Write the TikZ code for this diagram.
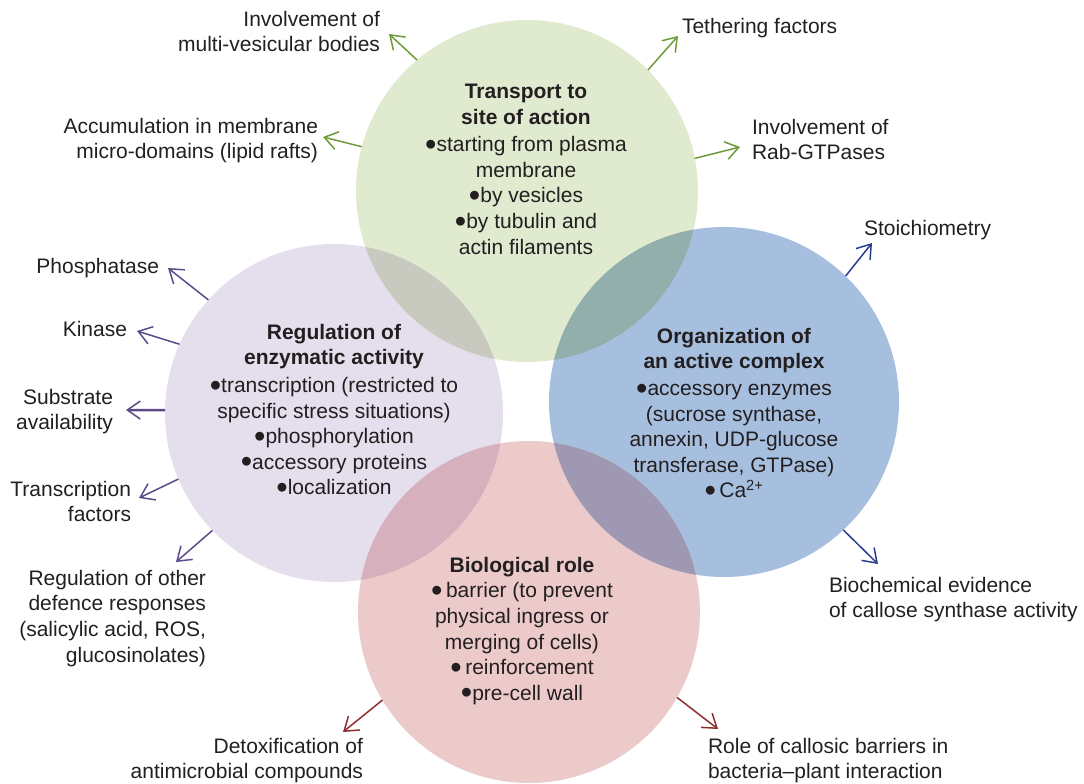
\documentclass[tikz,border=0pt]{standalone}
\usepackage{fontspec}
\setmainfont{Liberation Sans}
\usetikzlibrary{arrows.meta}

% disc fills
\definecolor{fgreen}{HTML}{E0EACF}
\definecolor{fpurple}{HTML}{E5DEEC}
\definecolor{fblue}{HTML}{A7BFDF}
\definecolor{fred}{HTML}{EDCACA}
% overlap fills
\definecolor{ogp}{HTML}{C8CAC0}
\definecolor{ogb}{HTML}{93AFAC}
\definecolor{opr}{HTML}{D6B1BD}
\definecolor{obr}{HTML}{9E98B2}
% connector colours
\definecolor{lgreen}{HTML}{6E9B3A}
\definecolor{lpurple}{HTML}{5C4A8B}
\definecolor{lblue}{HTML}{263F92}
\definecolor{lred}{HTML}{8F2E30}
\definecolor{ink}{HTML}{231F20}

% large round bullet
\newcommand{\bigdot}{\raisebox{-3.6pt}{\scalebox{1.55}{•}}}

\begin{document}
\begin{tikzpicture}[x=1pt,y=-1pt,
  font=\fontsize{21}{25.6}\selectfont,
  disc/.style={circle,inner sep=0pt,outer sep=0pt},
  txt/.style={inner sep=0pt,outer sep=0pt,text=ink},
  arr/.style={line width=1.5pt,-{Straight Barb[length=13pt,width=18pt,line width=1.5pt]}},
  ]
\useasboundingbox (0,0) rectangle (1084,784);

% the four discs
\node[disc,fill=fgreen,minimum size=342pt]  (tr)  at (527,191) {};
\node[disc,fill=fpurple,minimum size=338pt] (rg)  at (334,413) {};
\node[disc,fill=fblue,minimum size=350pt]   (oc)  at (724,402) {};
\node[disc,fill=fred,minimum size=342pt]    (bio) at (529,612) {};

% pairwise overlaps
\begin{scope}
  \clip (527,191) circle (171);
  \fill[ogp] (334,413) circle (169);
  \fill[ogb] (724,402) circle (175);
\end{scope}
\begin{scope}
  \clip (529,612) circle (171);
  \fill[opr] (334,413) circle (169);
  \fill[obr] (724,402) circle (175);
\end{scope}

% texts inside the discs
\node[txt,align=center,anchor=north] (trtext) at (526,84)
  {\textbf{Transport to}\\\textbf{site of action}\\[2pt]
   \bigdot starting from plasma\\membrane\\\bigdot by vesicles\\\bigdot by tubulin and\\actin filaments};
\node[txt,align=center,anchor=north] (rgtext) at (334,324)
  {\textbf{Regulation of}\\\textbf{enzymatic activity}\\[2pt]
   \bigdot transcription (restricted to\\specific stress situations)\\\bigdot phosphorylation\\
   \bigdot accessory proteins\\\bigdot localization};
\node[txt,align=center,anchor=north] (octext) at (734,328)
  {\textbf{Organization of}\\\textbf{an active complex}\\[1pt]
   \bigdot accessory enzymes\\(sucrose synthase,\\annexin, UDP-glucose\\
   transferase, GTPase)\\\bigdot\,Ca\textsuperscript{2+}};
\node[txt,align=center,anchor=north] (biotext) at (522,557)
  {\textbf{Biological role}\\
   \bigdot\,barrier (to prevent\\physical ingress or\\merging of cells)\\
   \bigdot\,reinforcement\\\bigdot pre-cell wall};

% outer labels
\node[txt,align=right,anchor=north east] (l1) at (380,11) {Involvement of\\multi-vesicular bodies};
\node[txt,align=right,anchor=north east] (l2) at (318,118) {Accumulation in membrane\\micro-domains (lipid rafts)};
\node[txt,align=left,anchor=north west] (l3) at (682,18) {Tethering factors};
\node[txt,align=left,anchor=north west] (l4) at (752,119) {Involvement of\\Rab-GTPases};
\node[txt,align=right,anchor=north east] (l5) at (159,258) {Phosphatase};
\node[txt,align=right,anchor=north east] (l6) at (127,321) {Kinase};
\node[txt,align=right,anchor=north east] (l7) at (113,389) {Substrate\\availability};
\node[txt,align=right,anchor=north east] (l8) at (131,481) {Transcription\\factors};
\node[txt,align=right,anchor=north east] (l9) at (206,570) {Regulation of other\\defence responses\\(salicylic acid, ROS,\\glucosinolates)};
\node[txt,align=right,anchor=north east] (l10) at (363,738) {Detoxification of\\antimicrobial compounds};
\node[txt,align=left,anchor=north west] (l11) at (708,738) {Role of callosic barriers in\\bacteria–plant interaction};
\node[txt,align=left,anchor=north west] (l12) at (864,220) {Stoichiometry};
\node[txt,align=left,anchor=north west] (l13) at (829,577) {Biochemical evidence\\of callose synthase activity};

% arrow tips
\coordinate (t1) at (389,34);
\coordinate (t2) at (323,137);
\coordinate (t3) at (678,36);
\coordinate (t4) at (740,147);
\coordinate (t5) at (168,268);
\coordinate (t6) at (137,331);
\coordinate (t7) at (126,410);
\coordinate (t8) at (139,498);
\coordinate (t9) at (176,562);
\coordinate (t10) at (343,732);
\coordinate (t11) at (718,729);
\coordinate (t12) at (872,243);
\coordinate (t13) at (878,564);

% connectors
\draw[arr,lgreen] (tr.130.4) -- (t1);
\draw[arr,lgreen] (tr.165.3) -- (t2);
\draw[arr,lgreen] (tr.45.9) -- (t3);
\draw[arr,lgreen] (tr.11.3) -- (t4);
\draw[arr,lpurple] (rg.138.5) -- (t5);
\draw[arr,lpurple] (rg.156.2) -- (t6);
\draw[arr,lpurple,line width=2.5pt] (rg.179) -- (t7);
\draw[arr,lpurple] (rg.203.4) -- (t8);
\draw[arr,lpurple] (rg.224.1) -- (t9);
\draw[arr,lred] (bio.211.3) -- (t10);
\draw[arr,lred] (bio.-30) -- (t11);
\draw[arr,lblue] (oc.46.7) -- (t12);
\draw[arr,lblue] (oc.-47) -- (t13);
\end{tikzpicture}
\end{document}
